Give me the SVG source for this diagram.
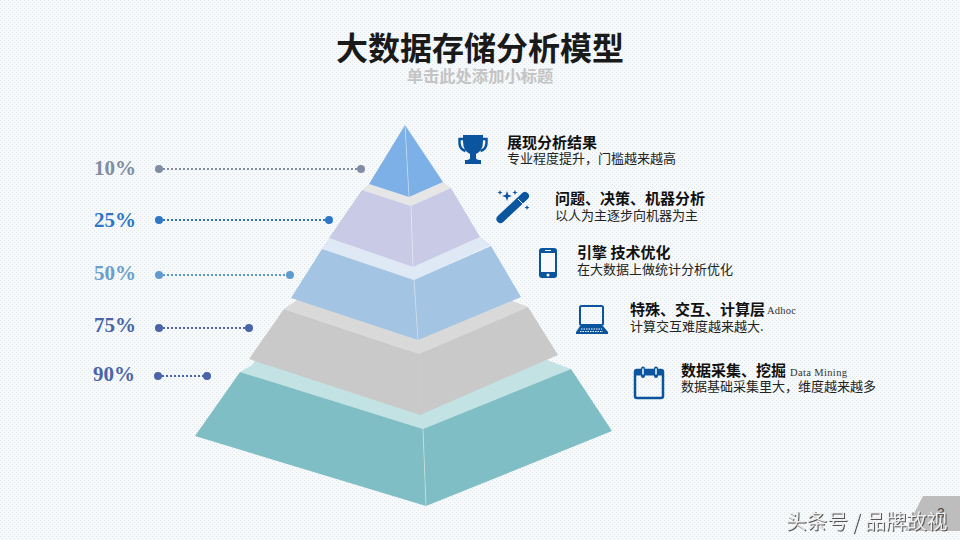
<svg xmlns="http://www.w3.org/2000/svg" width="960" height="540" viewBox="0 0 960 540">
<defs>
<pattern id="bg" width="4" height="4" patternUnits="userSpaceOnUse"><rect width="4" height="4" fill="#f7f9fa"/><rect width="1" height="1" fill="#dbe4e8"/><rect x="2" y="2" width="1" height="1" fill="#dbe4e8"/></pattern>
</defs>
<style>
.h{font-size:15px;font-weight:700;fill:#111;font-family:"Noto Sans CJK SC",sans-serif}
.s{font-size:13px;fill:#222;font-family:"Noto Sans CJK SC",sans-serif}
.en{font-size:10.500px;fill:#333;font-family:"Liberation Serif",serif}
.pct{font-size:21px;font-weight:700;font-family:"Liberation Serif",serif}
.ln{fill:none;stroke-width:2;stroke-dasharray:2 2}
.ic{fill:#0b559f}
.sm{stroke:#fff;stroke-opacity:.35;stroke-width:1;fill:none}
</style>
<rect width="960" height="540" fill="url(#bg)"/>
<polygon points="923,496 960,496 960,531 905,531" fill="#bdbdbd"/>
<text x="480" y="60" text-anchor="middle" font-size="32" font-weight="700" fill="#1a1a1a" font-family="Noto Sans CJK SC,sans-serif">大数据存储分析模型</text>
<text x="480" y="82" text-anchor="middle" font-size="16.300" font-weight="700" fill="#c4c4c4" font-family="Noto Sans CJK SC,sans-serif">单击此处添加小标题</text>
<g id="connectors">
<line class="ln" x1="159" y1="169" x2="361" y2="169" stroke="#7f8ca3"/>
<line class="ln" x1="159" y1="220" x2="329" y2="220" stroke="#2f76c6"/>
<line class="ln" x1="159" y1="275" x2="290" y2="275" stroke="#5f9bcf"/>
<line class="ln" x1="159" y1="328" x2="249" y2="328" stroke="#4a64a8"/>
<line class="ln" x1="158" y1="376" x2="207" y2="376" stroke="#4a64a8"/>
</g>
<g fill="#7f8ca3"><circle cx="159" cy="169" r="4"/><circle cx="361" cy="169" r="4"/></g>
<g fill="#2f76c6"><circle cx="159" cy="220" r="4"/><circle cx="329" cy="220" r="4"/></g>
<g fill="#5f9bcf"><circle cx="159" cy="275" r="4"/><circle cx="290" cy="275" r="4"/></g>
<g fill="#4a64a8"><circle cx="159" cy="328" r="4"/><circle cx="249" cy="328" r="4"/><circle cx="158" cy="376" r="4"/><circle cx="207" cy="376" r="4"/></g>
<text class="pct" x="94" y="175" fill="#7f8ca3">10%</text>
<text class="pct" x="94" y="227" fill="#2f76c6">25%</text>
<text class="pct" x="94" y="280" fill="#6a9fcb">50%</text>
<text class="pct" x="94" y="332" fill="#4a64a8">75%</text>
<text class="pct" x="93" y="381" fill="#4a64a8">90%</text>
<g id="layer5">
<polygon points="252,365 262,350 540,350 547,360 571,369 423,429 240,372" fill="#c3e2e4"/>
<polygon points="240,372 423,429 426,506 195,436" fill="#80bec6"/>
<polygon points="423,429 571,369 612,431 426,506" fill="#80bec6"/>
<line class="sm" x1="423" y1="429" x2="426" y2="506"/>
</g>
<g id="layer4">
<polygon points="297,300 510,300 528,307 419,354 284,309" fill="#d9d9d9"/>
<polygon points="284,309 419,354 420,415 249,359" fill="#c9c9c9"/>
<polygon points="419,354 528,307 558,355 420,415" fill="#c9c9c9"/>
</g>
<g id="layer3">
<polygon points="329,238 413,267 480,237 491,245 414,280 322,249" fill="#dfe9f5"/>
<polygon points="322,249 414,280 418,340 291,298" fill="#a3c4e3"/>
<polygon points="414,280 491,246 521,297 418,340" fill="#a3c4e3"/>
<line class="sm" x1="414" y1="280" x2="418" y2="340"/>
</g>
<g id="layer2">
<polygon points="369,184 409,197 443,182 451,188 411,206 362,190" fill="#e6e6e6"/>
<polygon points="362,190 411,206 413,267 329,238" fill="#c9cae6"/>
<polygon points="411,206 451,188 480,237 413,267" fill="#c9cae6"/>
<line class="sm" x1="411" y1="206" x2="413" y2="267"/>
</g>
<g id="layer1">
<polygon points="405,125 409,197 369,184" fill="#7db0e6"/>
<polygon points="405,125 443,182 409,197" fill="#7db0e6"/>
<line class="sm" x1="405" y1="125" x2="409" y2="197" stroke-opacity=".15"/>
</g>
<g id="item1">
<path class="ic" d="M463 135h20v6q0 10-7 13v4q0 2 5 2v4h-16v-4q5 0 5-2v-4q-7-3-7-13z"/>
<path d="M463 139h-3.500v4q0 6 6 8M483 139h3.500v4q0 6-6 8" fill="none" stroke="#0b559f" stroke-width="2.500"/>
<text class="h" x="507" y="147.500">展现分析结果</text><text class="s" x="507" y="163">专业程度提升，门槛越来越高</text>
</g>
<g id="item2">
<line x1="500.500" y1="219" x2="525" y2="196" stroke="#0b559f" stroke-width="8" stroke-linecap="round"/>
<line x1="518" y1="199" x2="523" y2="204" stroke="#f4f6f8" stroke-width="1"/>
<path class="ic" d="M507 191l1.300 3.700 3.700 1.300-3.700 1.300-1.300 3.700-1.300-3.700-3.700-1.300 3.700-1.300z"/>
<path class="ic" d="M500 190l.7 1.800 1.800.7-1.800.7-.7 1.800-.7-1.800-1.800-.7 1.800-.7zM515 190l.7 1.800 1.800.7-1.800.7-.7 1.800-.7-1.800-1.800-.7 1.800-.7zM527 205l.7 1.800 1.800.7-1.800.7-.7 1.800-.7-1.800-1.800-.7 1.800-.7z"/>
<text class="h" x="555" y="203.500">问题、决策、机器分析</text><text class="s" x="555" y="220">以人为主逐步向机器为主</text>
</g>
<g id="item3">
<rect x="539" y="248" width="18" height="30" rx="3" class="ic"/><rect x="541" y="253" width="14" height="19" fill="#f7f9fa"/><circle cx="548" cy="275" r="1.500" fill="#f7f9fa"/><rect x="545" y="250" width="6" height="1" fill="#f7f9fa"/>
<text class="h" x="577" y="257.500">引擎 技术优化</text><text class="s" x="577" y="274">在大数据上做统计分析优化</text>
</g>
<g id="item4">
<rect x="580" y="306" width="23" height="19" rx="1.500" fill="none" stroke="#0b559f" stroke-width="2"/>
<path class="ic" d="M580 326h23l5 6v2h-32v-2z"/>
<path d="M581 329h21M580 331.500h23" stroke="#f7f9fa" stroke-width="1" stroke-dasharray="1.500 1"/>
<text class="h" x="630" y="314.500">特殊、交互、计算层</text><text class="en" x="767" y="314" textLength="29" lengthAdjust="spacing">Adhoc</text><text class="s" x="630" y="331">计算交互难度越来越大.</text>
</g>
<g id="item5">
<rect x="635" y="370" width="28" height="28" rx="2" fill="none" stroke="#0b559f" stroke-width="2.500"/>
<rect x="635" y="370" width="28" height="5.500" class="ic"/>
<path d="M643 376v-7.500M656 376v-7.500" stroke="#0b559f" stroke-width="4" stroke-linecap="round"/>
<path d="M643 374v-5M656 374v-5" stroke="#f7f9fa" stroke-width="1.500" stroke-linecap="round"/>
<text class="h" x="681" y="375.500">数据采集、挖掘</text><text class="en" x="790" y="376" textLength="57" lengthAdjust="spacing">Data Mining</text><text class="s" x="681" y="391">数据基础采集里大，维度越来越多</text>
</g>
<text x="941" y="518" font-size="14" fill="#444" font-family="Liberation Sans,sans-serif" text-anchor="middle">3</text>
<text x="786" y="529" font-size="20.600" fill="#eeeeee" style="filter:drop-shadow(1px 1px 0 #555)" font-family="Noto Sans CJK SC,sans-serif">头条号 / 品牌故视</text>
</svg>
